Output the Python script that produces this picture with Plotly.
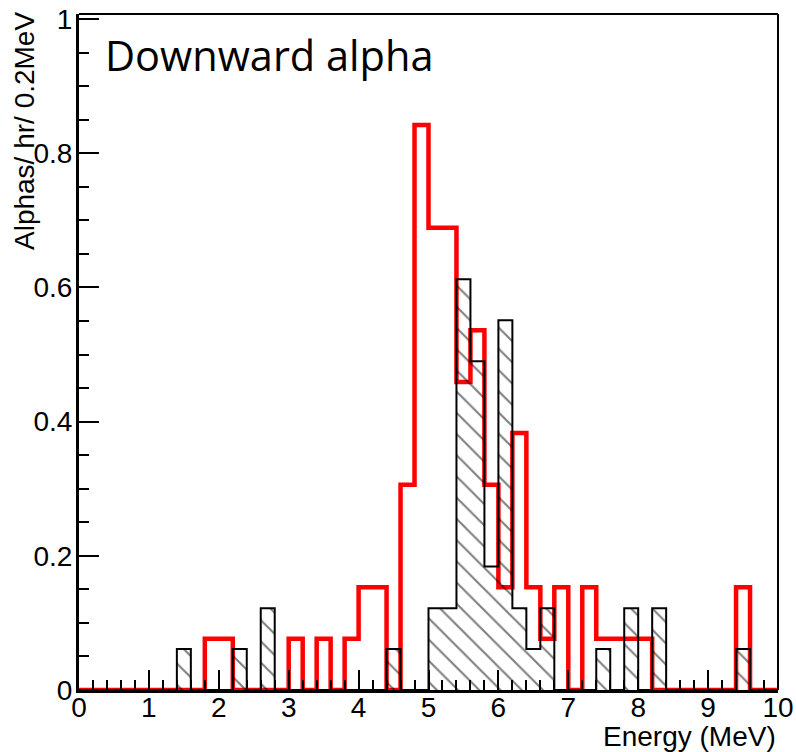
import numpy as np
import plotly.graph_objects as go

# Energy binning: 0-10 MeV in 0.2 MeV bins
bin_width = 0.2
energy_edges = np.round(np.arange(0.0, 10.0 + bin_width / 2, bin_width), 3)

# Rate per bin (alphas/hr per 0.2 MeV), 50 bins each
hatched_rates = [
    0, 0, 0, 0, 0, 0, 0, 0.0612, 0, 0,
    0, 0.0612, 0, 0.122, 0, 0, 0, 0, 0, 0,
    0, 0, 0.0612, 0, 0, 0.122, 0.122, 0.612, 0.490, 0.184,
    0.551, 0.122, 0.0612, 0.122, 0, 0, 0, 0.0612, 0, 0.122,
    0, 0.122, 0, 0, 0, 0, 0, 0.0612, 0, 0,
]
red_rates = [
    0, 0, 0, 0, 0, 0, 0, 0, 0, 0.0765,
    0.0765, 0, 0, 0, 0, 0.0765, 0, 0.0765, 0, 0.0765,
    0.153, 0.153, 0, 0.306, 0.842, 0.689, 0.689, 0.459, 0.536, 0.306,
    0.153, 0.383, 0.153, 0.0765, 0.153, 0, 0.153, 0.0765, 0.0765, 0.0765,
    0.0765, 0, 0, 0, 0, 0, 0, 0.153, 0, 0,
]

x_ticks = [0, 1, 2, 3, 4, 5, 6, 7, 8, 9, 10]
y_ticks = [0, 0.2, 0.4, 0.6, 0.8, 1]
y_tick_text = ["0", "0.2", "0.4", "0.6", "0.8", "1"]

font_family = "Liberation Sans, Arial, Helvetica, sans-serif"


def step_points(values):
    """Histogram contour: left edge of each bin plus the final upper edge."""
    xs = list(energy_edges)
    ys = list(values) + [values[-1]]
    return xs, ys


fig = go.Figure()

rx, ry = step_points(red_rates)
fig.add_trace(go.Scatter(
    x=rx, y=ry, mode="lines",
    line=dict(shape="hv", color="#ff0000", width=4.5),
    cliponaxis=False, showlegend=False, hoverinfo="skip",
))

bx, by = step_points(hatched_rates)
fig.add_trace(go.Scatter(
    x=bx, y=by, mode="lines",
    line=dict(shape="hv", color="black", width=2),
    fill="tozeroy", fillcolor="rgba(0,0,0,0)",
    fillpattern=dict(shape="\\", fgcolor="black", bgcolor="rgba(0,0,0,0)",
                     size=15, solidity=0.14),
    cliponaxis=False, showlegend=False, hoverinfo="skip",
))

W, H = 796, 752
ml, mr, mt, mb = 79, 18, 14, 62
plot_w = W - ml - mr
plot_h = H - mt - mb


def px_x(p):
    return (p - ml) / plot_w


def px_y(p):
    return (H - mb - p) / plot_h


axis_common = dict(
    showline=True, linecolor="black", linewidth=3,
    ticks="inside", ticklen=20, tickwidth=2, tickcolor="black",
    showgrid=False, zeroline=False, automargin=False,
    tickfont=dict(family=font_family, size=28, color="black"),
)

fig.update_layout(
    width=W, height=H,
    margin=dict(l=ml, r=mr, t=mt, b=mb, pad=0, autoexpand=False),
    paper_bgcolor="white", plot_bgcolor="white",
    font=dict(family=font_family, size=28, color="black"),
    xaxis=dict(
        range=[0, 10], tickvals=x_ticks, ticklabelstandoff=-10,
        minor=dict(ticks="inside", ticklen=10, tickwidth=2, tickcolor="black", dtick=0.2),
        **axis_common,
    ),
    yaxis=dict(
        range=[0, 1.0075], tickvals=y_ticks, ticktext=y_tick_text, ticklabelstandoff=-2,
        minor=dict(ticks="inside", ticklen=10, tickwidth=2, tickcolor="black", dtick=0.05),
        **axis_common,
    ),
    shapes=[
        dict(type="line", xref="paper", yref="paper", x0=0, x1=1, y0=1, y1=1,
             line=dict(color="black", width=2)),
        dict(type="line", xref="paper", yref="paper", x0=1, x1=1, y0=0, y1=1,
             line=dict(color="black", width=2)),
    ],
    annotations=[
        dict(text="Downward alpha", xref="paper", yref="paper",
             x=px_x(103), y=px_y(25),
             xanchor="left", yanchor="top", showarrow=False,
             font=dict(family="Open Sans, Noto Sans, sans-serif", size=41.5, color="black")),
        dict(text="Energy (MeV)", xref="paper", yref="paper",
             x=1.0, y=px_y(719),
             xanchor="right", yanchor="top", showarrow=False,
             font=dict(family=font_family, size=28, color="black")),
        dict(text="Alphas/ hr/ 0.2MeV", xref="paper", yref="paper",
             x=px_x(25), y=px_y(10),
             xanchor="center", yanchor="top", textangle=-90, showarrow=False,
             font=dict(family=font_family, size=28, color="black")),
    ],
)

fig.write_html("out.html")
